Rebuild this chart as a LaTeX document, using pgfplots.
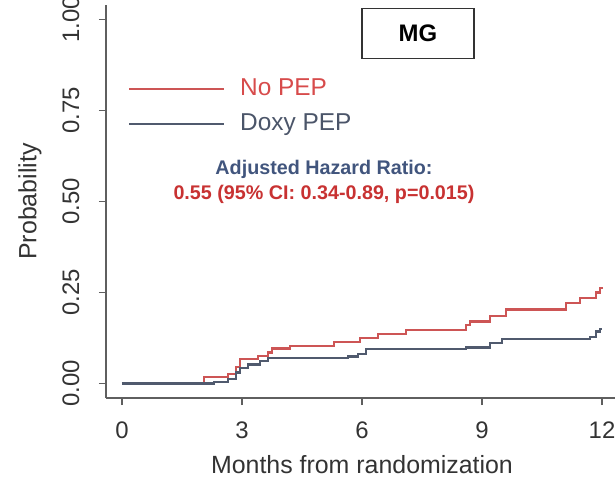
\documentclass[border=0pt]{standalone}
\usepackage{fontspec}
\setmainfont{Liberation Sans}
\usepackage{pgfplots}
\pgfplotsset{compat=1.18}
\definecolor{nopep}{RGB}{205,85,85}
\definecolor{doxy}{RGB}{80,90,110}
\definecolor{nopeptext}{RGB}{215,75,75}
\definecolor{doxytext}{RGB}{75,85,105}
\definecolor{ahrblue}{RGB}{65,85,125}
\definecolor{ahrred}{RGB}{200,50,50}
\definecolor{axgray}{RGB}{95,95,95}

\begin{document}
\begin{tikzpicture}
\begin{axis}[
  scale only axis, width=512bp, height=393bp,
  xmin=-0.4, xmax=12.4, ymin=-0.04, ymax=1.04,
  axis x line*=bottom, axis y line*=left,
  axis line style={axgray, line width=1.2bp},
  every tick/.style={axgray, line width=1.2bp},
  tick align=outside, major tick length=7bp,
  xtick={0,3,6,9,12}, ytick={0,0.25,0.5,0.75,1},
  xticklabels={0,3,6,9,12},
  yticklabels={0.00,0.25,0.50,0.75,1.00},
  /pgf/number format/assume math mode=true,
  ticklabel style={font=\fontsize{24}{27}\selectfont, text=black!80},
  yticklabel style={rotate=90, anchor=south},
  xticklabel style={anchor=north},
  yticklabel shift=16bp,
  xticklabel shift=13bp,
  xlabel={Months from randomization}, ylabel={Probability},
  label style={font=\fontsize{25}{29}\selectfont, text=black!80},
  xlabel style={at={(axis description cs:0.5,0)}, anchor=base, yshift=-75bp},
  ylabel style={at={(axis description cs:0,0.5)}, anchor=center, yshift=76bp},
  legend style={draw=none, fill=none, at={(0.043,0.814)}, anchor=north west,
    inner sep=0pt, outer sep=0pt, row sep=13bp, column sep=15bp,
    font=\fontsize{24.5}{28}\selectfont,
    nodes={inner sep=0pt, text height=17bp, text depth=5bp}},
  legend cell align=left,
  legend image code/.code={\draw[#1] (0bp,0bp) -- (95bp,0bp);},
]
\addplot[const plot, nopep, line width=2.2bp] coordinates {
(0,0) (2.05,0.017) (2.65,0.025) (2.85,0.045) (2.95,0.068) (3.4,0.075)
(3.65,0.085) (3.75,0.096) (4.2,0.104) (5.3,0.114) (5.95,0.124) (6.4,0.136)
(7.1,0.147) (8.6,0.160) (8.7,0.170) (9.2,0.185) (9.6,0.203) (11.1,0.221)
(11.45,0.234) (11.85,0.250) (11.95,0.262) (12.0,0.264)};
\addlegendentry{\textcolor{nopeptext}{No PEP}}
\addplot[const plot, doxy, line width=2.2bp] coordinates {
(0,0) (2.3,0.005) (2.65,0.012) (2.85,0.030) (2.95,0.042) (3.15,0.052)
(3.45,0.062) (3.65,0.069) (5.65,0.074) (5.9,0.082) (6.1,0.095) (8.6,0.099)
(9.2,0.111) (9.5,0.123) (11.7,0.128) (11.85,0.143) (11.95,0.150) (12.0,0.150)};
\addlegendentry{\textcolor{doxytext}{Doxy PEP}}
\node[draw=black!80, line width=1.2bp, minimum width=112bp, minimum height=50bp,
  font=\fontsize{24}{28}\selectfont\bfseries] at (axis cs:7.4,0.961) {MG};
\node[align=center, font=\fontsize{19.8}{25}\selectfont\bfseries] at (axis cs:5.05,0.555)
  {\textcolor{ahrblue}{Adjusted Hazard Ratio:}\\ \textcolor{ahrred}{0.55 (95\% CI: 0.34-0.89, p=0.015)}};
\end{axis}
\pgfresetboundingbox
\path[use as bounding box] (-106bp,-84bp) rectangle (509bp,398bp);
\end{tikzpicture}
\end{document}
